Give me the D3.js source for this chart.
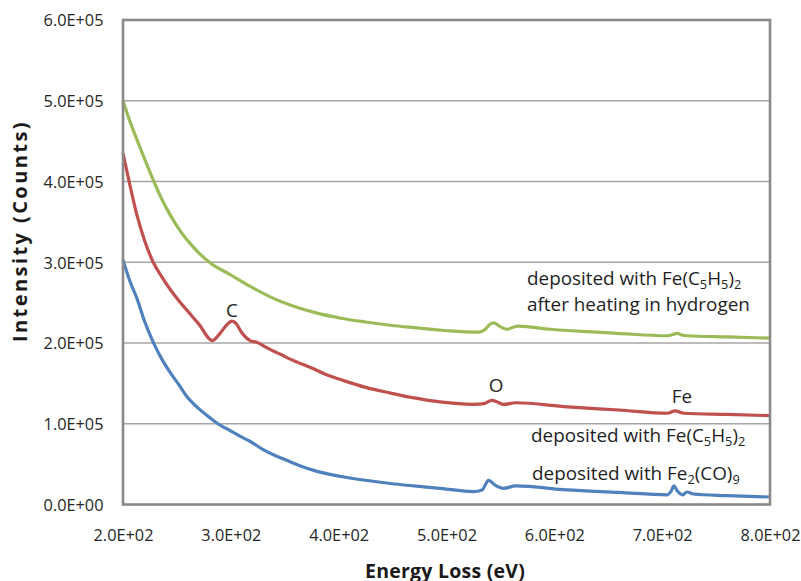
<!DOCTYPE html>
<html>
<head>
<meta charset="utf-8">
<script src="https://cdn.jsdelivr.net/npm/d3@7"></script>
<style>
  html, body { margin: 0; padding: 0; background: #fff; }
  svg { display: block; font-family: "Open Sans", Lato, sans-serif; }
</style>
</head>
<body>
<svg id="chart" width="801" height="581"></svg>
<script>
// ---- data (energy loss in eV, intensity in counts) ----
const xTicks = [200, 300, 400, 500, 600, 700, 800];
const xTickLabels = ["2.0E+02", "3.0E+02", "4.0E+02", "5.0E+02", "6.0E+02", "7.0E+02", "8.0E+02"];
const yTicks = [0, 100000, 200000, 300000, 400000, 500000, 600000];
const yTickLabels = ["0.0E+00", "1.0E+05", "2.0E+05", "3.0E+05", "4.0E+05", "5.0E+05", "6.0E+05"];

const greenE = [200, 206, 212, 220, 228, 236, 244, 254, 265, 281, 299, 318, 340, 355, 380, 401, 425, 448, 470, 494, 503, 530, 536, 540, 544, 550, 556, 566, 596, 630, 658, 705, 711, 714, 718, 723, 760, 800];
const greenI = [500000, 476000, 455000, 428000, 402000, 378000, 358000, 337000, 319000, 299000, 285000, 270000, 255000, 247000, 237000, 231000, 226000, 222000, 219000, 216000, 215000, 213500, 217000, 223000, 225000, 220000, 217000, 221000, 217000, 214000, 212000, 209000, 211000, 212000, 210000, 209000, 207500, 206000];

const redE = [200, 206, 213, 220, 228, 236, 244, 252, 259, 270, 283, 290, 296, 301, 305, 310, 318, 324, 335, 346, 355, 375, 392, 401, 425, 448, 470, 494, 525, 535, 542, 547, 553, 564, 612, 660, 705, 712, 720, 760, 800];
const redI = [435000, 398000, 358000, 327000, 300000, 282000, 266000, 252000, 241000, 224000, 203000, 212000, 222000, 227000, 224000, 213000, 203000, 201000, 193000, 186000, 180000, 169000, 159000, 155000, 145000, 138000, 132000, 127000, 124000, 125000, 129000, 127000, 124000, 126000, 121000, 117000, 113000, 116000, 113000, 111500, 110000];

const blueE = [200, 206, 213, 220, 228, 236, 244, 252, 259, 270, 281, 287, 300, 308, 318, 330, 342, 355, 364, 380, 401, 425, 448, 470, 494, 525, 533, 539, 545, 553, 564, 612, 660, 705, 708, 711, 714, 719, 723, 729, 760, 800];
const blueI = [303000, 278000, 255000, 227000, 201000, 180000, 163000, 148000, 134000, 119000, 107000, 101000, 91000, 85000, 78000, 68000, 60000, 53000, 48000, 41000, 35000, 30000, 26000, 23000, 20000, 16000, 18000, 30000, 24000, 20000, 23000, 18000, 15000, 12000, 16000, 23000, 17000, 12000, 15500, 13000, 11000, 9300];

const seriesColors = ["#9BBB59", "#C0504D", "#4F81BD"];

// ---- layout ----
const svg = d3.select("#chart");
const pLeft = 123, pRight = 770, pTop = 20, pBottom = 504.5;
const x = d3.scaleLinear().domain([200, 800]).range([pLeft, pRight]);
const y = d3.scaleLinear().domain([0, 600000]).range([pBottom, pTop]);

function fitWidth(sel, target) {
  const fs0 = parseFloat(sel.attr("font-size"));
  const w = sel.node().getComputedTextLength();
  const fs1 = fs0 * target / w;
  sel.attr("font-size", fs1);
  return fs1;
}
function fitSpacing(sel, target) {
  const w = sel.node().getComputedTextLength();
  const n = sel.text().length;
  sel.attr("letter-spacing", (target - w) / n);
}

// gridlines
svg.append("g").selectAll("line").data(yTicks.slice(1, -1)).join("line")
  .attr("x1", pLeft).attr("x2", pRight)
  .attr("y1", d => y(d)).attr("y2", d => y(d))
  .attr("stroke", "#a6a6a6").attr("stroke-width", 1.3);

// tick label size, fitted to the reference width of one label
const probe = svg.append("text").attr("font-size", 15).text("6.0E+05");
const tickFs = fitWidth(probe, 60);
probe.remove();

// axes (labels only, Excel style)
const yAxis = d3.axisLeft(y).tickValues(yTicks).tickSize(0).tickPadding(0)
  .tickFormat((d, i) => yTickLabels[i]);
const gy = svg.append("g").attr("transform", `translate(103.5,0)`).call(yAxis);
gy.select(".domain").remove();
gy.selectAll("text").attr("font-size", tickFs).attr("fill", "#262626")
  .attr("font-family", "'Open Sans', sans-serif").attr("dy", "0.36em").attr("x", 0);

const xAxis = d3.axisBottom(x).tickValues(xTicks).tickSize(0).tickPadding(0)
  .tickFormat((d, i) => xTickLabels[i]);
const gx = svg.append("g").attr("transform", `translate(0,541)`).call(xAxis);
gx.select(".domain").remove();
gx.selectAll("text").attr("font-size", tickFs).attr("fill", "#262626")
  .attr("font-family", "'Open Sans', sans-serif").attr("dy", 0).attr("y", 0);

// series
const line = d3.line().x(d => x(d[0])).y(d => y(d[1])).curve(d3.curveMonotoneX);
const series = [
  d3.zip(greenE, greenI),
  d3.zip(redE, redI),
  d3.zip(blueE, blueI)
];
svg.append("g").selectAll("path").data(series).join("path")
  .attr("d", line)
  .attr("fill", "none")
  .attr("stroke", (d, i) => seriesColors[i])
  .attr("stroke-width", 3.2)
  .attr("stroke-linejoin", "round");

// plot border
svg.append("rect").attr("x", pLeft).attr("y", pTop)
  .attr("width", pRight - pLeft).attr("height", pBottom - pTop)
  .attr("fill", "none").attr("stroke", "#898989").attr("stroke-width", 2.6);

// axis titles
const xt = svg.append("text").attr("x", 445).attr("y", 577.5).attr("text-anchor", "middle")
  .attr("font-weight", "bold").attr("font-size", 19.5).attr("fill", "#1a1a1a")
  .text("Energy Loss (eV)");
fitSpacing(xt, 160);
const yt = svg.append("text").attr("transform", "translate(27,231) rotate(-90)")
  .attr("text-anchor", "middle")
  .attr("font-weight", "bold").attr("font-size", 20).attr("fill", "#1a1a1a")
  .text("Intensity (Counts)");
fitSpacing(yt, 222);

// annotations
function addLabel(xp, yp, parts, size) {
  const t = svg.append("text").attr("x", xp).attr("y", yp)
    .attr("font-size", size).attr("fill", "#1f1f1f");
  let shifted = 0;
  parts.forEach(p => {
    if (typeof p === "string") {
      t.append("tspan").attr("dy", -shifted).text(p);
      shifted = 0;
    } else {
      t.append("tspan").attr("font-size", "0.68em").attr("dy", p.dy - shifted).text(p.t);
      shifted = p.dy;
    }
  });
  return t;
}
const line2 = addLabel(527, 311, ["after heating in hydrogen"], 16);
const fs = fitWidth(line2, 223);
addLabel(527, 285, ["deposited with Fe(C", {t: "5", dy: 3.5}, "H", {t: "5", dy: 3.5}, ")", {t: "2", dy: 3.5}], fs);
addLabel(531, 442, ["deposited with Fe(C", {t: "5", dy: 3.5}, "H", {t: "5", dy: 3.5}, ")", {t: "2", dy: 3.5}], fs);
addLabel(532, 480, ["deposited with Fe", {t: "2", dy: 3.5}, "(CO)", {t: "9", dy: 3.5}], fs);

svg.append("text").attr("x", 232).attr("y", 317).attr("text-anchor", "middle")
  .attr("font-size", fs).attr("fill", "#1f1f1f").text("C");
svg.append("text").attr("x", 496).attr("y", 392).attr("text-anchor", "middle")
  .attr("font-size", fs).attr("fill", "#1f1f1f").text("O");
svg.append("text").attr("x", 682).attr("y", 403).attr("text-anchor", "middle")
  .attr("font-size", fs).attr("fill", "#1f1f1f").text("Fe");
</script>
</body>
</html>
